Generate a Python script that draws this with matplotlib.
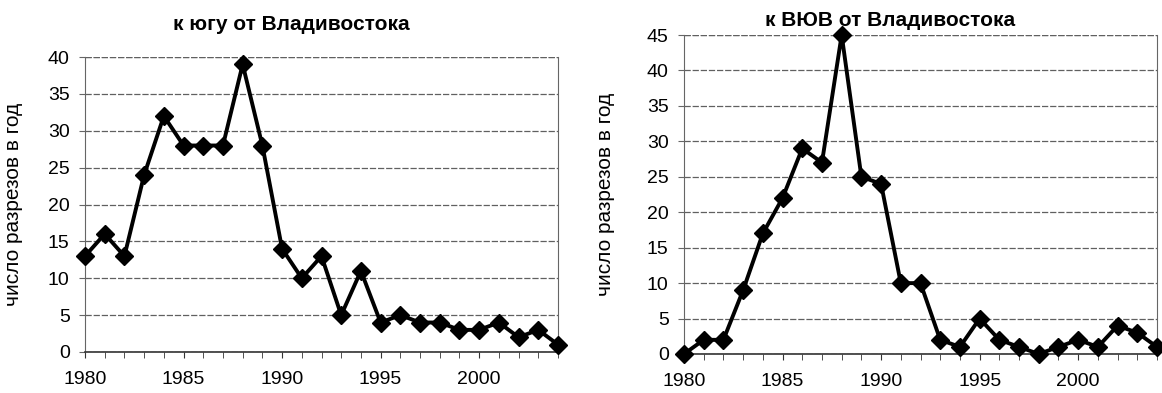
import matplotlib.pyplot as plt
from matplotlib.ticker import MultipleLocator

plt.rcParams['font.family'] = ['Liberation Sans', 'DejaVu Sans']

years = list(range(1980, 2005))
south = [13, 16, 13, 24, 32, 28, 28, 28, 39, 28, 14, 10, 13, 5, 11, 4, 5, 4, 4, 3, 3, 4, 2, 3, 1]
ese = [0, 2, 2, 9, 17, 22, 29, 27, 45, 25, 24, 10, 10, 2, 1, 5, 2, 1, 0, 1, 2, 1, 4, 3, 1]

titles = ["к югу от Владивостока", "к ВЮВ от Владивостока"]
ylabel = "число разрезов в год"

W, H = 1162, 393
fig = plt.figure(figsize=(W / 100, H / 100), dpi=100)
# axes boxes in pixels: left, top, right, bottom
ax1 = fig.add_axes([85 / W, 1 - 352 / H, 473 / W, 295 / H])
ax2 = fig.add_axes([684 / W, 1 - 354 / H, 473 / W, 319 / H])

grid_style = dict(color='#606060', lw=0.9, ls=(0, (5, 1.5)))


def draw(ax, values, ymax, label_x):
    ax.plot(years, values, color='black', lw=2.8, marker='D', ms=9,
            mfc='black', mec='black', clip_on=False, zorder=3)
    ax.set_xlim(1980, 2004)
    ax.set_ylim(0, ymax)
    ax.yaxis.set_major_locator(MultipleLocator(5))
    ax.xaxis.set_major_locator(MultipleLocator(5))
    ax.xaxis.set_minor_locator(MultipleLocator(1))
    ax.grid(axis='y', **grid_style)
    ax.axhline(ymax, zorder=1, **grid_style)
    ax.set_axisbelow(True)
    ax.spines['top'].set_visible(False)
    for s in ['left', 'right']:
        ax.spines[s].set_color('#666666')
        ax.spines[s].set_linewidth(0.8)
    ax.spines['bottom'].set_color('#333333')
    ax.spines['bottom'].set_linewidth(1.2)
    ax.tick_params(axis='y', length=4, color='#666666', labelsize=14, pad=7)
    ax.tick_params(axis='x', which='both', length=4, color='#333333',
                   labelsize=14, pad=10)
    ax.set_ylabel(ylabel, fontsize=15)
    ax.yaxis.set_label_coords(label_x, 0.5)


draw(ax1, south, 40, (23 - 85) / 473)
draw(ax2, ese, 45, (615 - 684) / 473)

fig.text(291 / W, 1 - 24 / H, titles[0], fontsize=15, fontweight='bold',
         ha='center', va='center')
fig.text(890 / W, 1 - 20 / H, titles[1], fontsize=15, fontweight='bold',
         ha='center', va='center')

fig.savefig("out.png", dpi=100)
